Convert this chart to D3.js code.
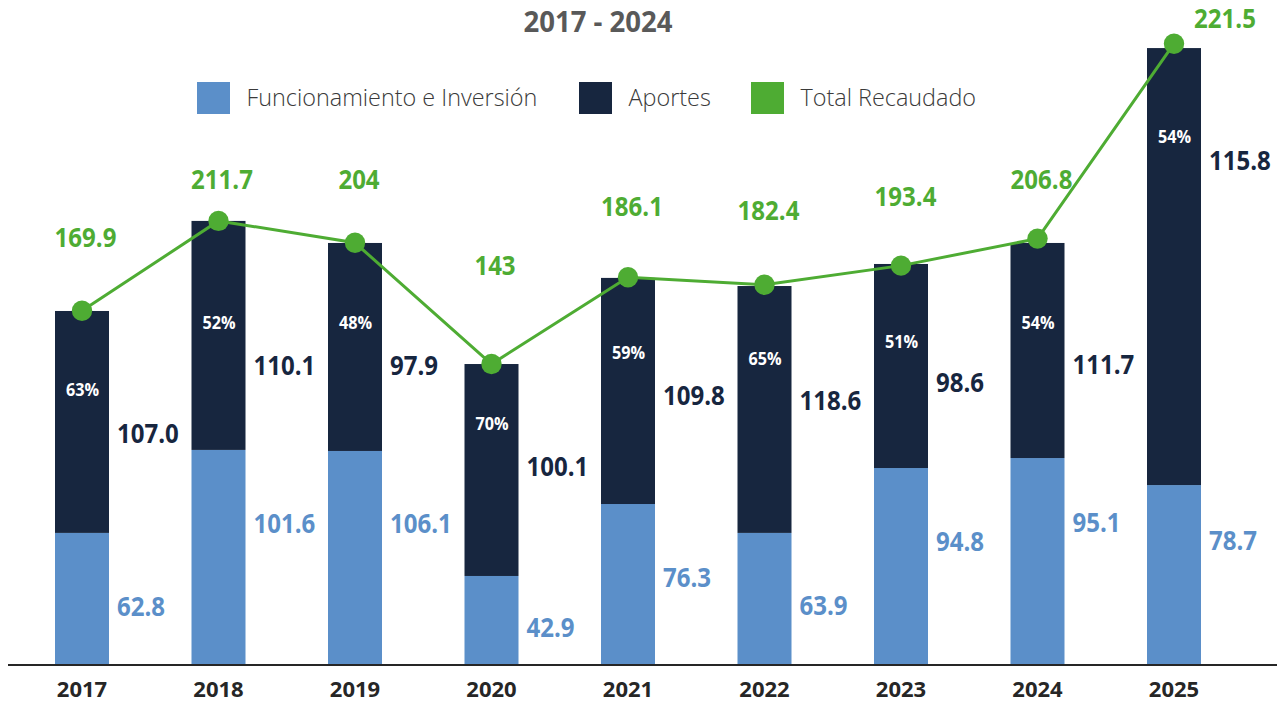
<!DOCTYPE html>
<html>
<head>
<meta charset="utf-8">
<script src="https://cdn.jsdelivr.net/npm/d3@7/dist/d3.min.js"></script>
<style>
  html, body { margin: 0; padding: 0; background: #ffffff; }
  svg { display: block; font-family: "Open Sans", "Noto Sans", sans-serif; }
</style>
</head>
<body>
<script>
// ---------- DATA ----------
const years = ["2017", "2018", "2019", "2020", "2021", "2022", "2023", "2024", "2025"];
const funcionamiento = [62.8, 101.6, 106.1, 42.9, 76.3, 63.9, 94.8, 95.1, 78.7];
const aportes = [107.0, 110.1, 97.9, 100.1, 109.8, 118.6, 98.6, 111.7, 115.8];
const totalRecaudado = [169.9, 211.7, 204, 143, 186.1, 182.4, 193.4, 206.8, 221.5];
const pctAportes = ["63%", "52%", "48%", "70%", "59%", "65%", "51%", "54%", "54%"];
const titleText = "2017 - 2024";
const seriesNames = ["Funcionamiento e Inversión", "Aportes", "Total Recaudado"];

// segment heights as drawn in the reference picture (value units)
const funcionamientoDrawn = [63.5, 103.4, 102.9, 42.8, 77.4, 63.5, 94.7, 99.5, 86.5];
const aportesDrawn = [106.7, 110.1, 100.0, 101.9, 108.7, 118.7, 98.1, 103.4, 210.1];
const totalDrawn = [170.3, 213.5, 203.0, 144.7, 186.4, 182.8, 192.0, 205.0, 298.7];

// label anchor levels (value units, as placed in the reference)
const funcLabelAt = [28.4, 68.0, 68.1, 18.3, 42.3, 28.6, 59.6, 68.5, 60.1];
const aportesLabelAt = [111.5, 144.2, 144.0, 95.4, 129.8, 127.4, 135.8, 144.7, 242.6];
const totalLabelAt = [205.8, 233.3, 233.3, 192.3, 220.7, 218.8, 225.5, 233.3, 311.1];
const pctLabelAt = [132.4, 164.4, 164.4, 116.2, 150.0, 147.1, 155.6, 164.6, 254.2];

// ---------- LAYOUT / STYLE ----------
const W = 1286, H = 702;
const C_BLUE = "#5B8FC9", C_NAVY = "#17263F", C_GREEN = "#4EAC33";
const totalLabelDx = [3.5, 3.5, 4, 3.5, 4, 4, 4.5, 4, 51];

const svg = d3.select("body").append("svg").attr("width", W).attr("height", H);

const x = d3.scaleBand().domain(years)
  .range([13.75, 1242.25]).paddingInner(0.6044).paddingOuter(0.3022);
const y = d3.scaleLinear().domain([0, 300]).range([665, 41]);
const bw = x.bandwidth();
const cx = d => x(d) + bw / 2;

const rows = years.map((yr, i) => ({
  yr, i,
  f: funcionamientoDrawn[i], a: aportesDrawn[i], t: totalDrawn[i]
}));

// bars
const gBars = svg.append("g");
gBars.selectAll("rect.f").data(rows).join("rect")
  .attr("x", d => x(d.yr)).attr("width", bw)
  .attr("y", d => y(d.f)).attr("height", d => y(0) - y(d.f))
  .attr("fill", C_BLUE);
gBars.selectAll("rect.a").data(rows).join("rect")
  .attr("x", d => x(d.yr)).attr("width", bw)
  .attr("y", d => y(d.f + d.a)).attr("height", d => y(d.f) - y(d.f + d.a))
  .attr("fill", C_NAVY);

// baseline axis line
svg.append("line").attr("x1", 8).attr("x2", 1277)
  .attr("y1", y(0)).attr("y2", y(0))
  .attr("stroke", "#262626").attr("stroke-width", 2);

// x axis labels
const xAxis = d3.axisBottom(x).tickSize(0).tickPadding(16);
const gx = svg.append("g").attr("transform", `translate(0,${y(0)})`).call(xAxis);
gx.select(".domain").remove();
gx.selectAll("text")
  .attr("font-family", '"Open Sans", "Noto Sans", sans-serif')
  .attr("font-size", 22).attr("font-weight", 700).attr("fill", "#262626")
  .attr("dy", "0.71em");

// total line + points
const line = d3.line().x(d => cx(d.yr)).y(d => y(d.t));
svg.append("path").datum(rows).attr("d", line)
  .attr("fill", "none").attr("stroke", C_GREEN).attr("stroke-width", 3);
svg.selectAll("circle.pt").data(rows).join("circle")
  .attr("cx", d => cx(d.yr)).attr("cy", d => y(d.t)).attr("r", 10.2)
  .attr("fill", C_GREEN);

// helper for slightly condensed text
function label(g, px, py, txt, opts) {
  const t = g.append("text")
    .attr("transform", `translate(${px},${py}) scale(${opts.sx || 0.9},1)`)
    .attr("dy", opts.dy || "0.357em")
    .attr("text-anchor", opts.anchor || "middle")
    .attr("font-size", opts.size).attr("font-weight", opts.weight || 700)
    .attr("fill", opts.fill)
    .text(txt);
  return t;
}

const gL = svg.append("g");
rows.forEach((d, i) => {
  const right = x(d.yr) + bw;
  label(gL, right + 8, y(funcLabelAt[i]), funcionamiento[i].toFixed(1),
    { size: 27, fill: C_BLUE, anchor: "start", sx: 0.89 });
  label(gL, right + 8, y(aportesLabelAt[i]), aportes[i].toFixed(1),
    { size: 27, fill: C_NAVY, anchor: "start", sx: 0.89 });
  label(gL, cx(d.yr) + totalLabelDx[i], y(totalLabelAt[i]), String(totalRecaudado[i]),
    { size: 27, fill: C_GREEN, anchor: "middle", sx: 0.89 });
  label(gL, cx(d.yr) + 0.5, y(pctLabelAt[i]), pctAportes[i],
    { size: 18, fill: "#ffffff", anchor: "middle", sx: 0.9 });
});

// title
label(svg, 598, 22, titleText, { size: 29, fill: "#595959", anchor: "middle", sx: 0.95 });

// legend
const legendItems = [
  { name: seriesNames[0], color: C_BLUE, x: 197 },
  { name: seriesNames[1], color: C_NAVY, x: 579 },
  { name: seriesNames[2], color: C_GREEN, x: 751 }
];
const gLeg = svg.append("g");
legendItems.forEach(it => {
  gLeg.append("rect").attr("x", it.x).attr("y", 82).attr("width", 33).attr("height", 32)
    .attr("fill", it.color);
  gLeg.append("text")
    .attr("transform", `translate(${it.x + 49.5},105.7) scale(0.975,1)`)
    .attr("font-size", 24).attr("font-weight", 300).attr("fill", "#3a3a3a")
    .text(it.name);
});
</script>
</body>
</html>
